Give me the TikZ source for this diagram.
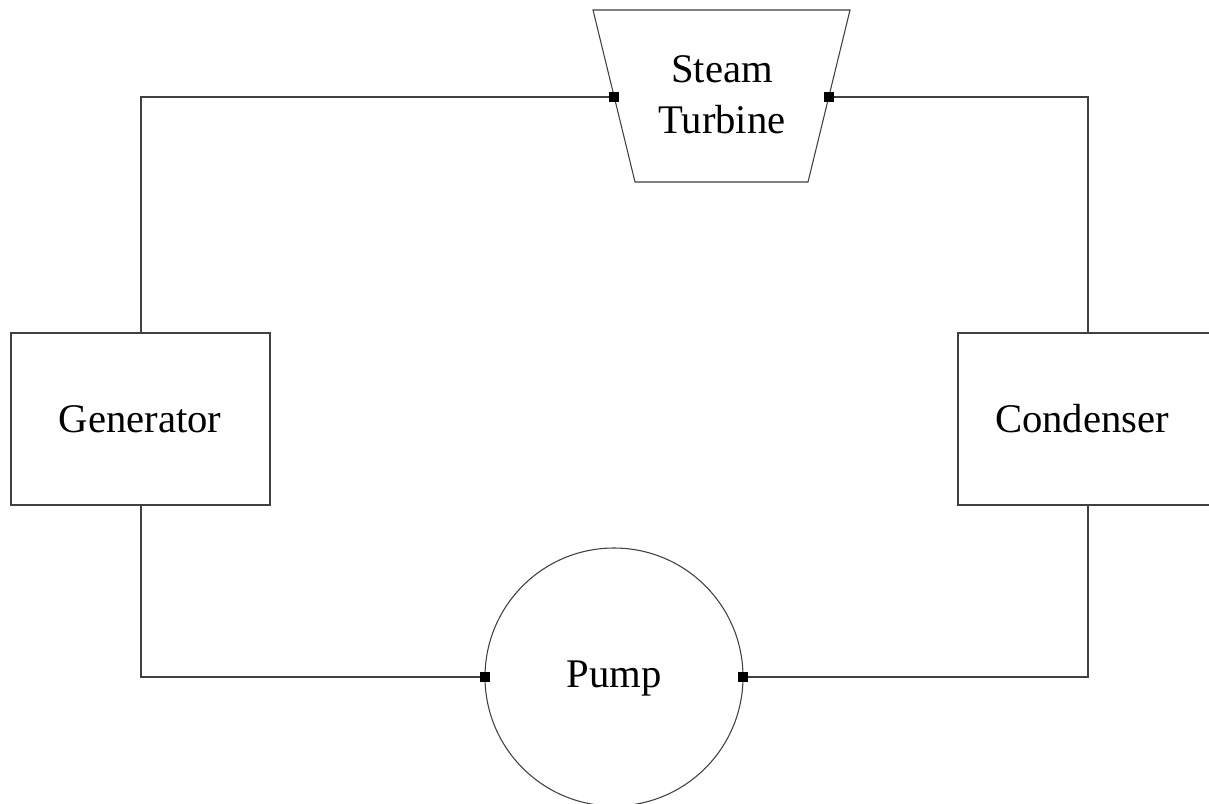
\documentclass[tikz,border=0pt]{standalone}
\usepackage{fontspec}
\setmainfont{Liberation Serif}
\begin{document}
\begin{tikzpicture}[x=0.75pt,y=-0.75pt,
  line/.style={draw=black!75,line width=0.8pt},
  lbl/.style={font=\fontsize{30.5}{38}\selectfont,text=black,inner sep=0pt},
  port/.style={fill=black,minimum size=6.8pt,inner sep=0pt,draw=none}]
\useasboundingbox (0,0) rectangle (1209,803);
\clip (0,0) rectangle (1209,803);
\fill[white] (0,0) rectangle (1209,803);
% turbine
\draw[line] (593,10) -- (850,10) -- (808,182) -- (635,182) -- cycle;
\node[lbl,align=center] (turbine) at (722,95) {Steam\\Turbine};
\coordinate (tin) at (614,97);
\coordinate (tout) at (829,97);
% generator
\draw[line] (11,333) rectangle (270,505);
\node[lbl] (generator) at (140,419) {Generator};
% condenser
\draw[line] (958,333) rectangle (1214,505);
\node[lbl] (condenser) at (1082,419) {Condenser};
% pump
\draw[line] (614,677) circle (129);
\node[lbl] (pump) at (614,679) {Pump};
\coordinate (pin) at (485,677);
\coordinate (pout) at (743,677);
% connectors
\draw[line] (141,333) |- (tin);
\draw[line] (tout) -| (1088,333);
\draw[line] (141,505) |- (pin);
\draw[line] (1088,505) |- (pout);
% ports
\node[port] at (tin) {};
\node[port] at (tout) {};
\node[port] at (pin) {};
\node[port] at (pout) {};
\end{tikzpicture}
\end{document}
